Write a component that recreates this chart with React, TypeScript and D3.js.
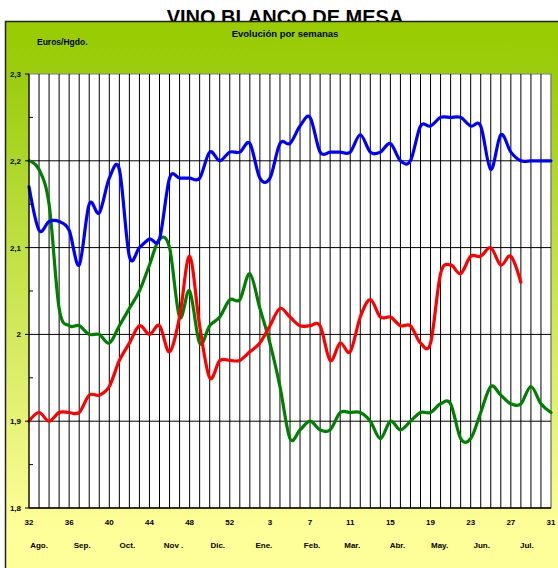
import * as d3 from "d3";

// week numbers, season 2004/05 (ISO 2004 had 53 weeks)
const weeks = [
    32, 33, 34, 35, 36, 37, 38, 39, 40, 41, 42, 43, 44, 45, 46, 47, 48, 49, 50, 51, 52, 53,
    1, 2, 3, 4, 5, 6, 7, 8, 9, 10, 11, 12, 13, 14, 15, 16, 17, 18, 19, 20, 21, 22, 23, 24, 25,
    26, 27, 28, 29, 30, 31,
];

const blueSeries = [
    2.17, 2.12, 2.13, 2.13, 2.12, 2.08, 2.15, 2.14, 2.18, 2.19, 2.09, 2.10, 2.11, 2.11, 2.18, 2.18,
    2.18, 2.18, 2.21, 2.20, 2.21, 2.21, 2.22, 2.18, 2.18, 2.22, 2.22, 2.24, 2.25, 2.21, 2.21, 2.21,
    2.21, 2.23, 2.21, 2.21, 2.22, 2.20, 2.20, 2.24, 2.24, 2.25, 2.25, 2.25, 2.24, 2.24, 2.19, 2.23,
    2.21, 2.20, 2.20, 2.20, 2.20,
];

const greenSeries = [
    2.20, 2.19, 2.15, 2.03, 2.01, 2.01, 2.00, 2.00, 1.99, 2.01, 2.03, 2.05, 2.08, 2.11, 2.10, 2.02,
    2.05, 1.99, 2.01, 2.02, 2.04, 2.04, 2.07, 2.03, 1.99, 1.94, 1.88, 1.89, 1.90, 1.89, 1.89, 1.91,
    1.91, 1.91, 1.90, 1.88, 1.90, 1.89, 1.90, 1.91, 1.91, 1.92, 1.92, 1.88, 1.88, 1.91, 1.94, 1.93,
    1.92, 1.92, 1.94, 1.92, 1.91,
];

const redSeries: (number | null)[] = [
    1.90, 1.91, 1.90, 1.91, 1.91, 1.91, 1.93, 1.93, 1.94, 1.97, 1.99, 2.01, 2.00, 2.01, 1.98, 2.02,
    2.09, 2.01, 1.95, 1.97, 1.97, 1.97, 1.98, 1.99, 2.01, 2.03, 2.02, 2.01, 2.01, 2.01, 1.97, 1.99,
    1.98, 2.02, 2.04, 2.02, 2.02, 2.01, 2.01, 1.99, 1.99, 2.07, 2.08, 2.07, 2.09, 2.09, 2.10, 2.08,
    2.09, 2.06, null, null, null,
];

const yTicks = [1.8, 1.9, 2.0, 2.1, 2.2, 2.3];
const yTickLabels = ["1,8", "1,9", "2", "2,1", "2,2", "2,3"];
const yMinorTicks = [1.85, 1.95, 2.05, 2.15, 2.25];

// month names and the (fractional) week slot they are centred on
const months = ["Ago.", "Sep.", "Oct.", "Nov .", "Dic.", "Ene.", "Feb.", "Mar.", "Abr.", "May.", "Jun.", "Jul."];
const monthSlots = [1, 5.3, 9.8, 14.4, 18.8, 23.4, 28.2, 32.2, 36.7, 40.9, 45.1, 49.6];

const W = 558;
const H = 568;
const plot = { left: 29, right: 551, top: 74, bottom: 508 };
const font = "Arial, 'Liberation Sans', sans-serif";

export default function App() {
    const idx = weeks.map((_, i) => i);
    const x = d3.scalePoint<number>().domain(idx).range([plot.left, plot.right]);
    const xs = d3.scaleLinear().domain([0, weeks.length - 1]).range([plot.left, plot.right]);
    const y = d3.scaleLinear().domain([1.8, 2.3]).range([plot.bottom, plot.top]);

    const line = d3
        .line<number | null>()
        .defined(d => d !== null)
        .x((_, i) => x(i) ?? 0)
        .y(d => y(d as number))
        .curve(d3.curveCardinal.tension(0));

    const series = [
        { values: greenSeries as (number | null)[], color: "#008000" },
        { values: redSeries, color: "#ff0000" },
        { values: blueSeries as (number | null)[], color: "#0000ff" },
    ];

    return (
        <div style={{ position: "absolute", left: 0, top: 0 }}>
            <svg width={W} height={H} style={{ display: "block", fontFamily: font }}>
                <defs>
                    <linearGradient id="bg" x1="0" y1="0" x2="0" y2="1">
                        <stop offset="0" stopColor="#99cc00" />
                        <stop offset="0.1" stopColor="#9ccd10" />
                        <stop offset="0.85" stopColor="#ffff99" />
                        <stop offset="1" stopColor="#ffff99" />
                    </linearGradient>
                </defs>
                <rect width={W} height={H} fill="#fff" />

                <text x={285} y={24} textAnchor="middle" fontSize={20} fontWeight="bold" fill="#000">
                    VINO BLANCO DE MESA
                </text>

                <rect x={5.5} y={21.5} width={600} height={600} fill="url(#bg)" stroke="#222" strokeWidth={1.5} />

                <text x={285} y={37} textAnchor="middle" fontSize={9.5} fontWeight="bold">
                    Evolución por semanas
                </text>
                <text x={37} y={45} fontSize={8.5} fontWeight="bold">
                    Euros/Hgdo.
                </text>

                {/* plot area */}
                <rect
                    x={plot.left}
                    y={plot.top}
                    width={plot.right - plot.left}
                    height={plot.bottom - plot.top}
                    fill="#fff"
                    stroke="#808080"
                    strokeWidth={1}
                />

                {idx.slice(1).map(i => (
                    <line
                        key={"v" + i}
                        x1={x(i)}
                        x2={x(i)}
                        y1={plot.top}
                        y2={plot.bottom}
                        stroke={i === weeks.length - 1 ? "#808080" : "#000"}
                        strokeWidth={1}
                    />
                ))}

                {yTicks.slice(1, -1).map(v => (
                    <line key={"h" + v} x1={plot.left} x2={plot.right} y1={y(v)} y2={y(v)} stroke="#000" strokeWidth={1} />
                ))}

                {series.map((s, k) => (
                    <path
                        key={k}
                        d={line(s.values) ?? ""}
                        fill="none"
                        stroke={s.color}
                        strokeWidth={3.2}
                        strokeLinejoin="round"
                        strokeLinecap="round"
                    />
                ))}

                {/* axes */}
                <line x1={plot.left} x2={plot.left} y1={plot.top} y2={plot.bottom} stroke="#000" strokeWidth={1.2} />
                <line x1={plot.left} x2={plot.right} y1={plot.bottom} y2={plot.bottom} stroke="#000" strokeWidth={1.5} />

                {yTicks.map((v, i) => (
                    <g key={"yt" + v}>
                        <line x1={plot.left - 4} x2={plot.left} y1={y(v)} y2={y(v)} stroke="#000" />
                        <text x={21} y={y(v) + 3} textAnchor="end" fontSize={8} fontWeight="bold">
                            {yTickLabels[i]}
                        </text>
                    </g>
                ))}
                {yMinorTicks.map(v => (
                    <line key={"ym" + v} x1={plot.left} x2={plot.left + 4} y1={y(v)} y2={y(v)} stroke="#000" />
                ))}

                {idx
                    .filter(i => i % 4 === 0)
                    .map(i => (
                        <text key={"xt" + i} x={x(i)} y={525} textAnchor="middle" fontSize={8} fontWeight="bold">
                            {weeks[i]}
                        </text>
                    ))}

                {months.map((m, i) => (
                    <text key={m} x={xs(monthSlots[i])} y={548} textAnchor="middle" fontSize={8} fontWeight="bold">
                        {m}
                    </text>
                ))}
            </svg>
        </div>
    );
}
